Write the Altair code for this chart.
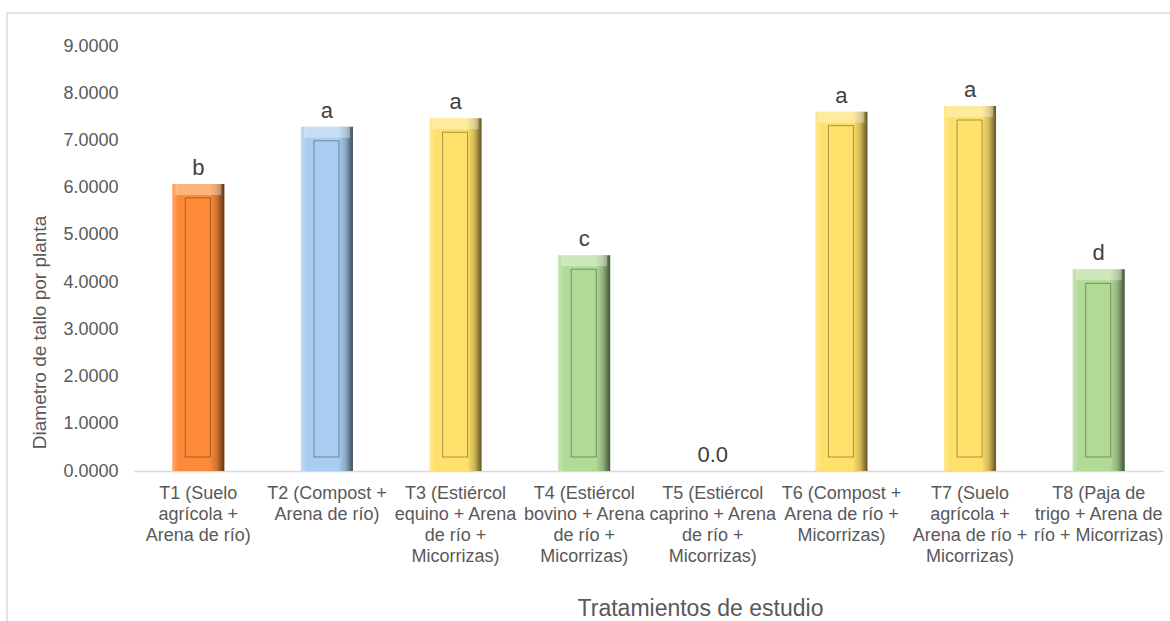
import altair as alt
import pandas as pd

# Treatments (each entry is the list of lines of its axis label)
treatment_lines = [
    ["T1 (Suelo", "agrícola +", "Arena de río)"],
    ["T2 (Compost +", "Arena de río)"],
    ["T3 (Estiércol", "equino + Arena", "de río +", "Micorrizas)"],
    ["T4 (Estiércol", "bovino + Arena", "de río +", "Micorrizas)"],
    ["T5 (Estiércol", "caprino + Arena", "de río +", "Micorrizas)"],
    ["T6 (Compost +", "Arena de río +", "Micorrizas)"],
    ["T7 (Suelo", "agrícola +", "Arena de río +", "Micorrizas)"],
    ["T8 (Paja de", "trigo + Arena de", "río + Micorrizas)"],
]
stem_diameter = [6.08, 7.29, 7.47, 4.57, 0.0, 7.61, 7.73, 4.27]
significance = ["b", "a", "a", "c", "0.0", "a", "a", "d"]
bar_colors = ["#fd8a38", "#a8cdf1", "#ffe06a", "#b1da97",
              "#b1da97", "#ffe06a", "#ffe06a", "#b1da97"]
y_ticks = [0, 1, 2, 3, 4, 5, 6, 7, 8, 9]

labels = ["|".join(lines) for lines in treatment_lines]
df = pd.DataFrame({
    "trat": labels,
    "valor": stem_diameter,
    "letra": significance,
    "color": bar_colors,
})

FONT = "Liberation Sans"
BAR_W = 52

x_enc = alt.X(
    "trat:N", sort=labels,
    scale=alt.Scale(paddingInner=0.0, paddingOuter=0.0),
    axis=alt.Axis(
        title="Tratamientos de estudio",
        labelExpr="split(datum.value, '|')",
        labelAngle=0, labelFontSize=18, labelLineHeight=21,
        labelColor="#595959", labelFont=FONT, labelPadding=13,
        ticks=False, domainColor="#d9d9d9", domainWidth=1.3,
        titleFontSize=23, titleFont=FONT, titleColor="#595959",
        titleFontWeight="normal", titleX=566, titleY=144,
        titleBaseline="alphabetic", titleAnchor="middle",
    ),
)
y_enc = alt.Y(
    "valor:Q",
    scale=alt.Scale(domain=[0, 9], nice=False),
    axis=alt.Axis(
        title="Diametro de tallo por planta",
        values=y_ticks, format=".4f", grid=False, domain=False, ticks=False,
        labelFontSize=18, labelColor="#595959", labelFont=FONT, labelPadding=16,
        titleFontSize=19, titleFont=FONT, titleColor="#595959",
        titleFontWeight="normal", titleX=-89, titleY=286,
        titleAngle=-90, titleBaseline="alphabetic", titleAnchor="middle",
    ),
)
color_enc = alt.Color("color:N", scale=None, legend=None)

base = alt.Chart(df)

# solid body of each bar
body = base.mark_bar(width=BAR_W).encode(x=x_enc, y=y_enc, y2=alt.datum(0), color=color_enc)

nonzero = base.transform_filter("datum.valor > 0")

# side shading: light on the left, dark on the right
shade = nonzero.mark_bar(
    width=BAR_W,
    color=alt.LinearGradient(
        gradient="linear", x1=0, x2=1, y1=0, y2=0,
        stops=[
            alt.GradientStop(offset=0.0, color="rgba(255,255,255,0.25)"),
            alt.GradientStop(offset=0.12, color="rgba(255,255,255,0)"),
            alt.GradientStop(offset=0.72, color="rgba(0,0,0,0)"),
            alt.GradientStop(offset=0.86, color="rgba(0,0,0,0.18)"),
            alt.GradientStop(offset=1.0, color="rgba(0,0,0,0.62)"),
        ],
    ),
).encode(x="trat:N", y="valor:Q", y2=alt.datum(0))

# bright bevel along the top edge
top_bevel = nonzero.mark_bar(
    width=BAR_W - 6, color="white", opacity=0.35, y2Offset=11,
).encode(x="trat:N", y="valor:Q", y2="valor:Q")

# recessed inner panel outline
inner = nonzero.mark_bar(
    width=25, fillOpacity=0, stroke="#000000", strokeOpacity=0.35, strokeWidth=1,
    yOffset=14, y2Offset=-14, xOffset=-0.5,
).encode(x="trat:N", y="valor:Q", y2=alt.datum(0))

letters = base.mark_text(
    dy=-9, baseline="alphabetic", fontSize=22, font=FONT, color="#404040",
).encode(x="trat:N", y="valor:Q", text="letra:N")

frame_df = pd.DataFrame({"k": [0]})
frame_left = alt.Chart(frame_df).mark_rule(color="#d9d9d9", strokeWidth=1.5).encode(
    x=alt.value(-127), y=alt.value(-33), y2=alt.value(600))
frame_top = alt.Chart(frame_df).mark_rule(color="#d9d9d9", strokeWidth=1.5).encode(
    x=alt.value(-127), x2=alt.value(1060), y=alt.value(-33))

chart = alt.layer(frame_left, frame_top, body, shade, top_bevel, inner, letters).properties(
    width=1029, height=425,
    autosize=alt.AutoSizeParams(type="none"),
    padding={"left": 134, "top": 46, "right": 7, "bottom": 150},
    background="white",
).configure_view(stroke=None)

chart.save("out.html", embed_options={"renderer": "svg", "actions": False})
